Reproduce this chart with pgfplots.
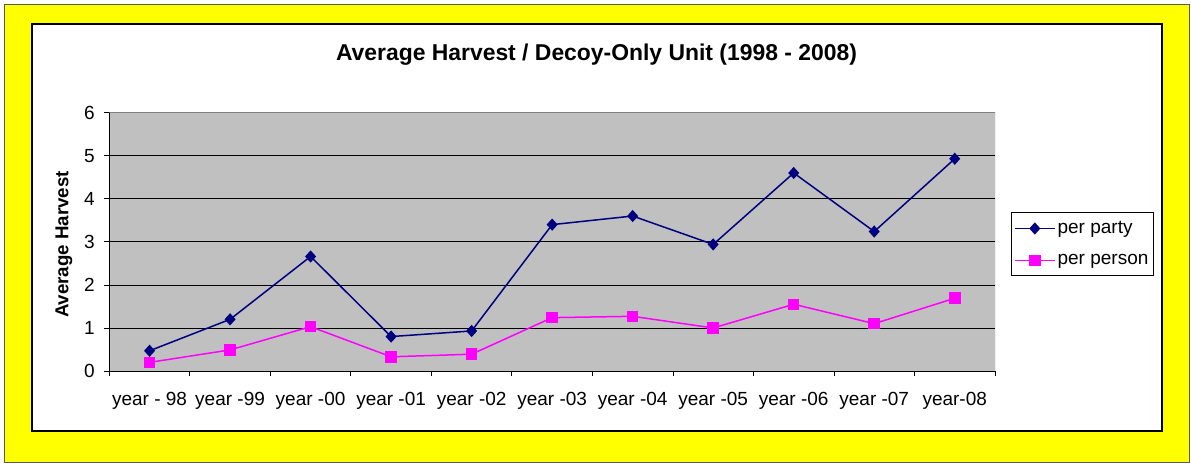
\documentclass[border=0pt]{standalone}
\usepackage{fontspec}
\setmainfont{Liberation Sans}
\usepackage{pgfplots}
\pgfplotsset{compat=1.18}
\definecolor{xlnavy}{HTML}{000080}
\definecolor{xlmag}{HTML}{FF00FF}
\definecolor{xlgray}{HTML}{C0C0C0}
\definecolor{xlborder}{HTML}{808080}
\definecolor{xlyellow}{HTML}{FFFF00}
\begin{document}
\begin{tikzpicture}
\useasboundingbox (0pt,0pt) rectangle (1191pt,464pt);
\filldraw[fill=xlyellow, draw=xlborder!70!black, line width=1pt] (4pt,2pt) rectangle (1189pt,459pt);
\filldraw[fill=white, draw=black, line width=2pt] (32pt,33pt) rectangle (1162pt,440pt);
\node[anchor=base, font=\fontsize{22.9}{26}\selectfont\bfseries] at (596.5pt,403pt) {Average Harvest / Decoy-Only Unit (1998 - 2008)};
\begin{axis}[
  at={(109.3pt,93pt)}, anchor=south west,
  scale only axis, width=885.7pt, height=258.3pt,
  xmin=-0.5, xmax=10.5, ymin=0, ymax=6,
  axis background/.style={fill=xlgray},
  axis x line*=bottom, axis y line*=left,
  axis line style={black, line width=0.8pt, -},
  xtick={-0.5,0.5,...,10.5},
  xticklabels={year - 98, year -99, year -00, year -01, year -02, year -03, year -04, year -05, year -06, year -07, year-08, {}},
  xticklabel style={xshift=40.26pt, yshift=-13pt, font=\fontsize{19}{22}\selectfont},
  ytick={0,1,...,6},
  yticklabel style={font=\fontsize{19}{22}\selectfont, xshift=-6pt},
  /pgf/number format/assume math mode=true,
  tick align=outside, major tick length=5pt,
  tick style={black, line width=0.8pt},
  ymajorgrids, major grid style={black, line width=0.8pt},
  ylabel={Average Harvest},
  ylabel style={at={(axis description cs:-0.0461,0.4897)}, anchor=base, font=\fontsize{18.7}{21}\selectfont\bfseries},
  legend style={at={(axis description cs:1.0177,0.6167)}, anchor=north west, draw=black, fill=white, line width=0.8pt,
    font=\fontsize{19}{22}\selectfont, inner xsep=3pt, inner ysep=0pt, nodes={inner xsep=2pt, inner ysep=9.5pt}},
  legend cell align=left,
  legend image code/.code={\draw[mark repeat=2,mark phase=2,#1] plot coordinates {(0pt,0pt) (20pt,0pt) (40pt,0pt)};},
]
\addplot[color=xlnavy, line width=1.5pt, mark=diamond*, mark size=5pt, mark options={xscale=1.2, solid, fill=xlnavy}]
  coordinates {(0,0.47) (1,1.20) (2,2.66) (3,0.80) (4,0.93) (5,3.40) (6,3.60) (7,2.94) (8,4.60) (9,3.24) (10,4.93)};
\addlegendentry{per party}
\addplot[color=xlmag, line width=1.5pt, mark=square*, mark size=5pt, mark options={solid, fill=xlmag}]
  coordinates {(0,0.20) (1,0.49) (2,1.03) (3,0.33) (4,0.39) (5,1.24) (6,1.27) (7,1.00) (8,1.55) (9,1.10) (10,1.69)};
\addlegendentry{per person}
\draw[xlborder, line width=1pt] (rel axis cs:0,1) -- (rel axis cs:1,1) -- (rel axis cs:1,0);
\end{axis}
\end{tikzpicture}
\end{document}
